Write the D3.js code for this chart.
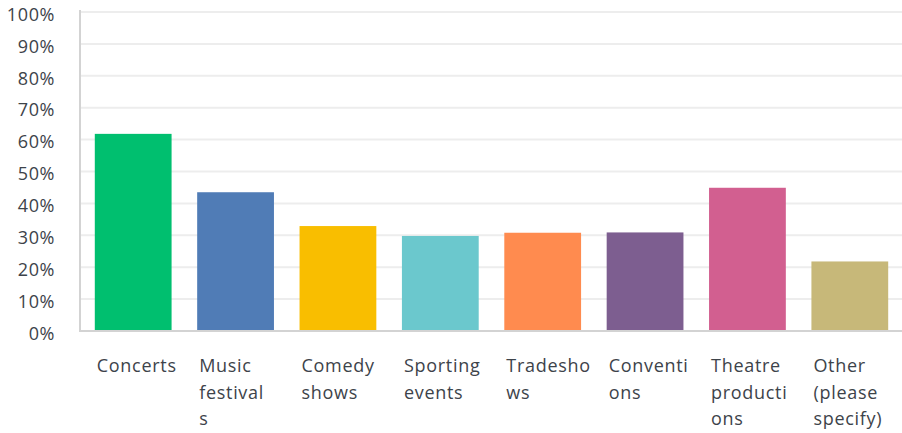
<!DOCTYPE html>
<html>
<head>
<meta charset="utf-8">
<script src="https://cdn.jsdelivr.net/npm/d3@7"></script>
<style>
  html, body { margin: 0; padding: 0; background: #fff; }
  svg { display: block; font-family: "Open Sans", sans-serif; }
</style>
</head>
<body>
<svg id="chart" width="902" height="433"></svg>
<script>
// Survey responses: share of respondents per event type
const categories = ["Concerts", "Music festivals", "Comedy shows", "Sporting events",
  "Tradeshows", "Conventions", "Theatre productions", "Other (please specify)"];
// category labels as they wrap under each bar
const labelLines = [["Concerts"], ["Music", "festival", "s"], ["Comedy", "shows"],
  ["Sporting", "events"], ["Tradesho", "ws"], ["Conventi", "ons"],
  ["Theatre", "producti", "ons"], ["Other", "(please", "specify)"]];
const values = [61.8, 43.5, 32.9, 29.8, 30.8, 30.9, 44.9, 21.8];
const colors = ["#00bf6f", "#507cb6", "#f9be00", "#6bc8cd", "#ff8b4f", "#7d5e90", "#d25f90", "#c7b879"];
const yTicks = [0, 10, 20, 30, 40, 50, 60, 70, 80, 90, 100];

const svg = d3.select("#chart");
const plot = { left: 80, right: 902, top: 12, bottom: 331 };

const x = d3.scaleBand()
  .domain(categories)
  .range([82, 901])
  .paddingInner(0.25)
  .paddingOuter(0.125);

const y = d3.scaleLinear().domain([0, 100]).range([plot.bottom, plot.top]);

// horizontal gridlines
svg.append("g").selectAll("line")
  .data(yTicks.filter(t => t > 0))
  .join("line")
  .attr("x1", plot.left).attr("x2", plot.right)
  .attr("y1", d => y(d)).attr("y2", d => y(d))
  .attr("stroke", "#ededed").attr("stroke-width", 2);

// y tick labels
const yAxis = d3.axisLeft(y).tickValues(yTicks).tickFormat(d => d + "%").tickSize(0).tickPadding(0);
const gy = svg.append("g").attr("transform", "translate(55,0)").call(yAxis);
gy.select(".domain").remove();
gy.selectAll("text")
  .attr("dy", "0.46em")
  .attr("font-size", 18)
  .attr("font-family", "Open Sans, sans-serif")
  .attr("letter-spacing", "0.6px")
  .attr("fill", "#3d434a");

// bars
svg.append("g").selectAll("rect")
  .data(categories)
  .join("rect")
  .attr("x", d => x(d))
  .attr("width", x.bandwidth())
  .attr("y", (d, i) => y(values[i]))
  .attr("height", (d, i) => y(0) - y(values[i]))
  .attr("fill", (d, i) => colors[i]);

// axis lines
svg.append("line")
  .attr("x1", plot.left).attr("x2", plot.left)
  .attr("y1", 10).attr("y2", plot.bottom + 1)
  .attr("stroke", "#d3d3d3").attr("stroke-width", 2);
svg.append("line")
  .attr("x1", plot.left - 1).attr("x2", plot.right)
  .attr("y1", plot.bottom).attr("y2", plot.bottom)
  .attr("stroke", "#d3d3d3").attr("stroke-width", 2);

// category labels
const labels = svg.append("g").selectAll("text")
  .data(categories)
  .join("text")
  .attr("x", d => x(d) + 2)
  .attr("y", 372)
  .attr("font-size", 18)
  .attr("letter-spacing", "0.7px")
  .attr("fill", "#3d434a");
labels.each(function (d, i) {
  d3.select(this).selectAll("tspan")
    .data(labelLines[i])
    .join("tspan")
    .attr("x", x(d) + 2)
    .attr("dy", (t, j) => j === 0 ? 0 : 26.7)
    .text(t => t);
});
</script>
</body>
</html>
